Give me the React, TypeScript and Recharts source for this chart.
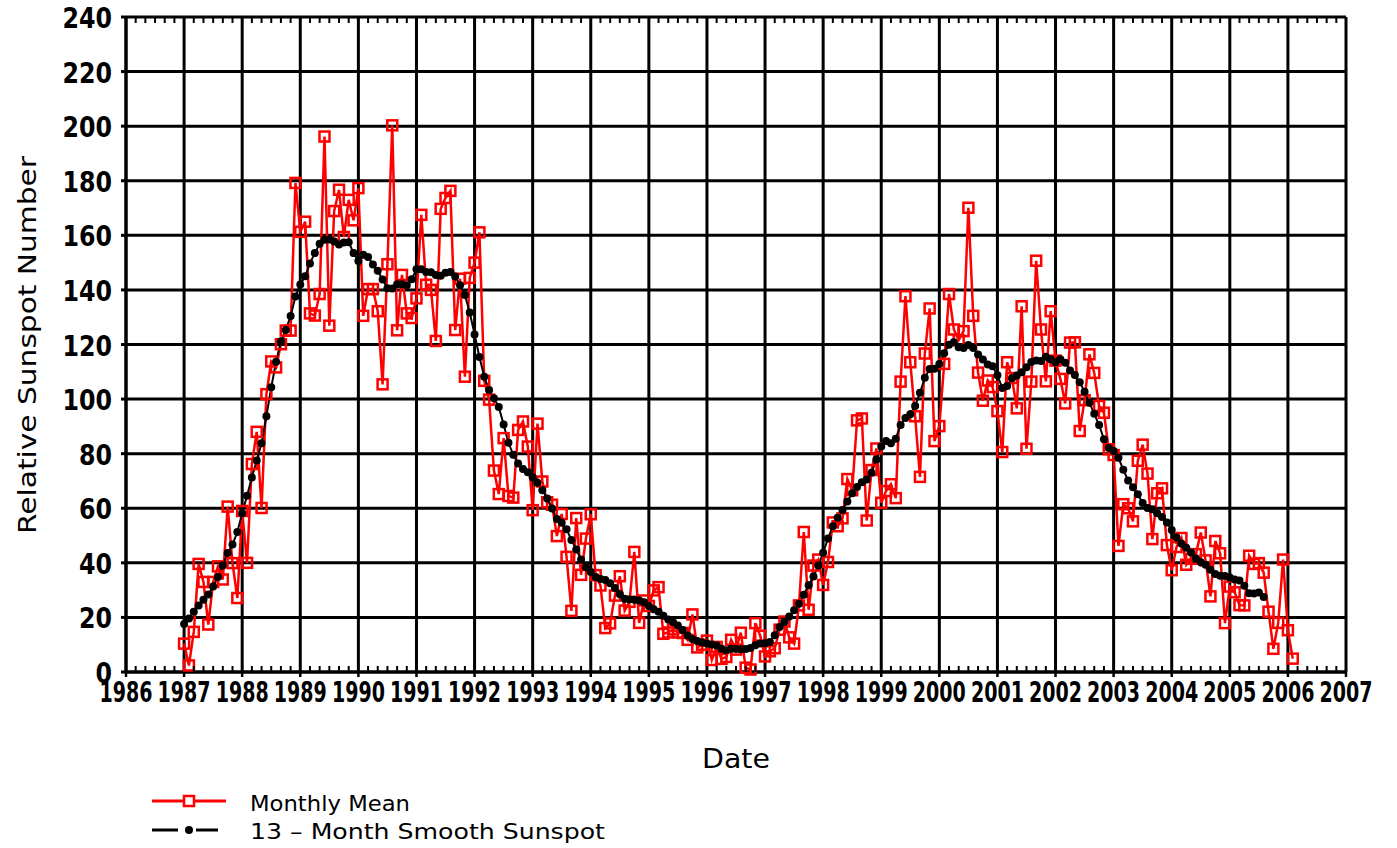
import React from 'react';
import { LineChart, Line, XAxis, YAxis, CartesianGrid } from 'recharts';

// Monthly mean relative sunspot number, Jan 1987 .. Feb 2006
const startYear = 1987;
const monthlyMean = [
  10.4, 2.4, 14.7, 39.6, 33.0, 17.4, 33.0, 38.7, 33.9, 60.6, 39.9, 27.1,
  59.0, 40.0, 76.2, 88.0, 60.1, 101.8, 113.8, 111.6, 120.1, 125.1, 125.1, 179.2,
  161.3, 165.0, 131.4, 130.6, 138.5, 196.2, 126.9, 168.9, 176.7, 159.4, 173.0, 165.5,
  177.3, 130.5, 140.3, 140.3, 132.2, 105.4, 149.4, 200.3, 125.2, 145.5, 131.4, 129.7,
  136.9, 167.5, 141.9, 140.0, 121.3, 169.7, 173.7, 176.3, 125.3, 144.1, 108.2, 144.4,
  150.0, 161.1, 106.7, 99.8, 73.8, 65.2, 85.7, 64.5, 63.9, 88.7, 91.8, 82.6,
  59.3, 91.0, 69.8, 62.2, 61.3, 49.8, 57.9, 42.2, 22.4, 56.4, 35.6, 48.9,
  57.8, 35.5, 31.7, 16.1, 17.8, 28.0, 35.1, 22.5, 25.7, 44.0, 18.0, 26.2,
  24.2, 29.9, 31.1, 14.0, 14.5, 15.6, 14.5, 14.3, 11.8, 21.1, 9.0, 10.0,
  11.5, 4.4, 9.2, 4.8, 5.5, 11.8, 8.2, 14.4, 1.6, 0.9, 17.9, 13.3,
  5.7, 7.6, 8.7, 15.5, 18.5, 12.7, 10.4, 24.4, 51.3, 22.8, 39.0, 41.2,
  31.9, 40.3, 54.8, 53.4, 56.3, 70.7, 66.6, 92.2, 92.9, 55.5, 74.0, 81.9,
  62.0, 66.3, 68.8, 63.7, 106.4, 137.7, 113.5, 93.7, 71.5, 116.7, 133.2, 84.6,
  90.1, 112.9, 138.5, 125.5, 121.6, 124.9, 170.1, 130.5, 109.7, 99.4, 106.8, 104.4,
  95.6, 80.6, 113.5, 107.7, 96.6, 134.0, 81.8, 106.4, 150.7, 125.5, 106.5, 132.2,
  114.1, 107.4, 98.4, 120.7, 120.8, 88.3, 99.6, 116.4, 109.6, 97.5, 95.0, 81.6,
  79.5, 46.2, 61.5, 60.0, 55.2, 77.4, 83.3, 72.7, 48.7, 65.5, 67.3, 46.5,
  37.3, 45.8, 49.1, 39.3, 41.5, 43.2, 51.1, 40.9, 27.7, 48.0, 43.5, 17.9,
  31.3, 29.2, 24.5, 24.4, 42.6, 39.6, 39.9, 36.4, 22.1, 8.5, 18.0, 41.2,
  15.3, 4.9,
];

// 13-month smoothed sunspot number, Jan 1987 .. Aug 2005
const smoothed = [
  17.6, 19.6, 22.1, 24.4, 26.5, 28.4, 31.3, 34.8, 39.0, 43.6, 46.7, 51.3,
  58.2, 64.6, 71.3, 77.5, 83.8, 93.7, 104.3, 113.7, 121.2, 125.3, 130.4, 137.6,
  142.0, 145.0, 149.7, 153.5, 156.9, 158.4, 158.5, 157.7, 156.6, 157.4, 157.5, 153.5,
  150.6, 152.9, 152.1, 149.3, 147.0, 143.8, 140.6, 140.5, 142.1, 142.1, 141.7, 143.9,
  147.6, 147.6, 146.6, 146.5, 145.5, 145.2, 146.3, 146.6, 144.9, 141.7, 138.1, 131.7,
  123.7, 115.4, 108.2, 103.3, 100.3, 97.1, 90.7, 84.0, 79.6, 76.4, 74.4, 73.2,
  71.4, 69.3, 66.6, 63.6, 59.9, 56.1, 54.7, 52.3, 48.4, 44.9, 41.2, 38.4,
  36.6, 34.8, 34.1, 33.7, 32.5, 30.8, 28.5, 26.8, 26.6, 26.5, 26.2, 25.6,
  24.2, 23.0, 22.1, 20.6, 19.2, 18.2, 17.0, 15.4, 13.4, 12.1, 11.4, 10.8,
  10.4, 10.1, 9.7, 8.5, 8.0, 8.5, 8.4, 8.3, 8.4, 8.8, 9.8, 10.4,
  10.5, 11.0, 13.5, 16.5, 18.3, 20.3, 22.6, 25.0, 28.3, 31.8, 35.0, 39.0,
  43.7, 48.9, 53.4, 56.5, 59.4, 62.5, 65.5, 67.8, 69.5, 70.5, 73.0, 77.9,
  82.6, 84.6, 83.8, 85.5, 90.5, 93.1, 94.4, 97.5, 102.3, 107.8, 111.0, 111.1,
  112.9, 116.8, 119.9, 120.8, 119.0, 118.7, 119.8, 118.7, 116.3, 114.5, 112.7, 112.0,
  108.7, 104.1, 104.8, 107.6, 108.6, 109.8, 111.7, 113.6, 114.1, 114.0, 115.5, 114.6,
  113.5, 114.6, 113.3, 110.5, 108.8, 106.2, 102.7, 98.7, 94.6, 90.5, 85.3, 82.1,
  81.0, 78.5, 74.1, 70.2, 67.7, 65.1, 61.9, 60.1, 59.6, 58.2, 56.8, 54.8,
  52.0, 49.3, 47.1, 45.5, 43.8, 41.6, 40.2, 39.3, 37.5, 35.9, 35.3, 35.2,
  34.6, 33.9, 33.5, 31.6, 28.9, 28.8, 29.1, 27.5,
];

const yearTicks = [
  1986, 1987, 1988, 1989, 1990, 1991, 1992, 1993, 1994, 1995, 1996,
  1997, 1998, 1999, 2000, 2001, 2002, 2003, 2004, 2005, 2006, 2007,
];
const valueTicks = [0, 20, 40, 60, 80, 100, 120, 140, 160, 180, 200, 220, 240];
const minorPerYear = 6;

const seriesNames = ['Monthly Mean', '13 \u2013 Month Smooth Sunspot'];
const xTitle = 'Date';
const yTitle = 'Relative Sunspot Number';

const data = monthlyMean.map((v, i) => ({
  x: startYear + i / 12,
  mean: v,
  smooth: i < smoothed.length ? smoothed[i] : null,
}));

// layout
const W = 1397;
const H = 848;
const PLOT_LEFT = 126;
const PLOT_TOP = 17;
const PLOT_W = 1220;
const PLOT_H = 655;
const Y_AXIS_W = 60;
const X_AXIS_H = 40;
const firstYear = yearTicks[0];
const lastYear = yearTicks[yearTicks.length - 1];
const YEAR_W = PLOT_W / (lastYear - firstYear);

const RED = '#ff0000';
const FONT = '"DejaVu Sans", sans-serif';
const TICK_FONT = '"Liberation Sans Narrow", "DejaVu Sans Condensed", "DejaVu Sans", sans-serif';

const XTick = (props: any) => {
  const { x, y, payload } = props;
  const v = Number(payload.value);
  const minors =
    v === lastYear
      ? []
      : Array.from({ length: minorPerYear - 1 }, (_, k) => x + ((k + 1) * YEAR_W) / minorPerYear);
  return (
    <g>
      <line x1={x} y1={y} x2={x} y2={y + 5} stroke="#000" strokeWidth={2.5} />
      {minors.map((mx, k) => (
        <g key={k}>
          <line x1={mx} y1={y} x2={mx} y2={y - 6} stroke="#000" strokeWidth={2} />
          <line x1={mx} y1={y - PLOT_H} x2={mx} y2={y - PLOT_H + 6} stroke="#000" strokeWidth={2} />
        </g>
      ))}
      <text
        x={x}
        y={y + 30}
        textAnchor="middle"
        fontFamily={TICK_FONT}
        fontWeight="bold"
        fontSize={28}
        textLength={53}
        lengthAdjust="spacingAndGlyphs"
        fill="#000"
      >
        {String(payload.value)}
      </text>
    </g>
  );
};

const YTick = (props: any) => {
  const { x, y, payload } = props;
  const s = String(payload.value);
  return (
    <text
      x={x - 7}
      y={y + 11}
      textAnchor="end"
      fontFamily={TICK_FONT}
      fontWeight="bold"
      fontSize={28}
      textLength={16.5 * s.length}
      lengthAdjust="spacingAndGlyphs"
      fill="#000"
    >
      {s}
    </text>
  );
};

const SquareDot = (props: any) => {
  const { cx, cy, index } = props;
  if (cx == null || cy == null) return <g key={`s${index}`} />;
  return (
    <rect
      key={`s${index}`}
      x={cx - 5}
      y={cy - 5}
      width={10}
      height={10}
      fill="none"
      stroke={RED}
      strokeWidth={2.5}
    />
  );
};

export default function App() {
  return (
    <div style={{ position: 'relative', width: W, height: H, overflow: 'hidden' }}>
      <style>{'html,body{margin:0;padding:0;overflow:hidden;background:#fff}'}</style>
      <LineChart
        width={W}
        height={H}
        data={data}
        margin={{
          top: PLOT_TOP,
          right: W - PLOT_LEFT - PLOT_W,
          left: PLOT_LEFT - Y_AXIS_W,
          bottom: H - PLOT_TOP - PLOT_H - X_AXIS_H,
        }}
      >
        <CartesianGrid stroke="#000" strokeWidth={3} />
        <XAxis
          type="number"
          dataKey="x"
          domain={[firstYear, lastYear]}
          ticks={yearTicks}
          interval={0}
          allowDataOverflow
          height={X_AXIS_H}
          tickSize={0}
          tickMargin={0}
          tickLine={false}
          axisLine={{ stroke: '#000', strokeWidth: 3 }}
          tick={<XTick />}
        />
        <YAxis
          type="number"
          domain={[0, 240]}
          ticks={valueTicks}
          interval={0}
          width={Y_AXIS_W}
          tickSize={5}
          tickLine={{ stroke: '#000', strokeWidth: 3 }}
          axisLine={{ stroke: '#000', strokeWidth: 3 }}
          tick={<YTick />}
        />
        <Line
          type="linear"
          dataKey="mean"
          stroke={RED}
          strokeWidth={2.5}
          dot={SquareDot}
          activeDot={false}
          isAnimationActive={false}
        />
        <Line
          type="linear"
          dataKey="smooth"
          stroke="#000"
          strokeWidth={2}
          dot={{ r: 4, fill: '#000', stroke: '#000', strokeWidth: 0 }}
          activeDot={false}
          connectNulls={false}
          isAnimationActive={false}
        />
      </LineChart>
      <svg
        width={W}
        height={H}
        style={{ position: 'absolute', left: 0, top: 0, pointerEvents: 'none' }}
      >
        <text
          transform="translate(36,345) rotate(-90)"
          textAnchor="middle"
          fontFamily={FONT}
          fontSize={25}
          textLength={378}
          lengthAdjust="spacingAndGlyphs"
          fill="#000"
        >
          {yTitle}
        </text>
        <text
          x={736}
          y={768}
          textAnchor="middle"
          fontFamily={FONT}
          fontSize={27}
          textLength={68}
          lengthAdjust="spacingAndGlyphs"
          fill="#000"
        >
          {xTitle}
        </text>
        <line x1={152} y1={801} x2={226} y2={801} stroke={RED} strokeWidth={3} />
        <rect x={184} y={796} width={10} height={10} fill="#fff" stroke={RED} strokeWidth={2.5} />
        <text
          x={250}
          y={811}
          fontFamily={FONT}
          fontSize={21}
          textLength={160}
          lengthAdjust="spacingAndGlyphs"
          fill="#000"
        >
          {seriesNames[0]}
        </text>
        <line x1={152} y1={830} x2={178} y2={830} stroke="#000" strokeWidth={3} />
        <circle cx={189} cy={830} r={4} fill="#000" />
        <line x1={196} y1={830} x2={218} y2={830} stroke="#000" strokeWidth={3} />
        <text
          x={250}
          y={839}
          fontFamily={FONT}
          fontSize={21}
          textLength={355}
          lengthAdjust="spacingAndGlyphs"
          fill="#000"
        >
          {seriesNames[1]}
        </text>
      </svg>
    </div>
  );
}
